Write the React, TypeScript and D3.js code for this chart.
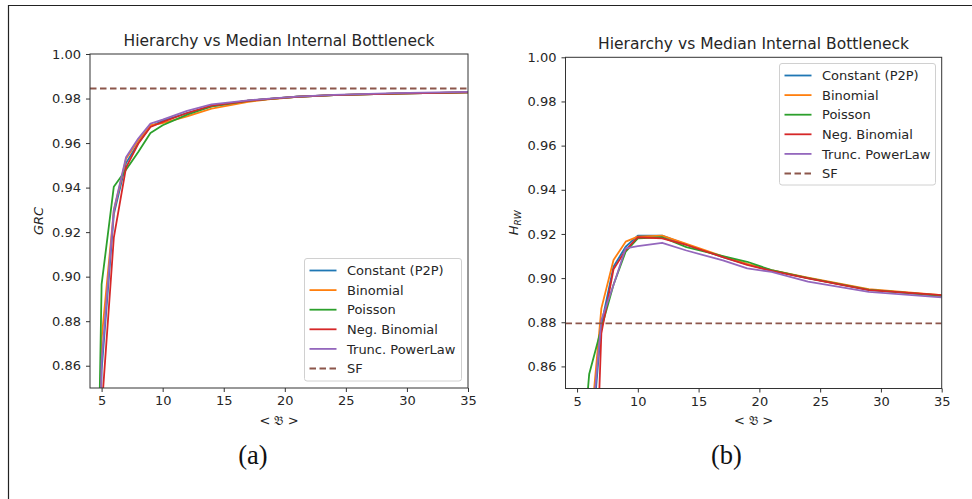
import React, { useEffect, useRef } from 'react';
import * as d3 from 'd3';

// median internal bottleneck <B> (shared x positions)
const bottleneck = [4, 5, 6, 7, 8, 9, 10, 12, 14, 17, 19, 21, 24, 29, 35];

const seriesNames = ['Constant (P2P)', 'Binomial', 'Poisson', 'Neg. Binomial', 'Trunc. PowerLaw'];
const seriesColors = ['#1f77b4', '#ff7f0e', '#2ca02c', '#d62728', '#9467bd'];
const sfColor = '#8c564b';

// (a) GRC
const grcConstant = [0.60, 0.858, 0.928, 0.951, 0.960, 0.9675, 0.970, 0.9735, 0.9765, 0.9790, 0.9800, 0.9808, 0.9815, 0.9822, 0.9828];
const grcBinomial = [0.62, 0.872, 0.9296, 0.9529, 0.9612, 0.968, 0.969, 0.972, 0.9755, 0.9785, 0.9798, 0.9807, 0.9815, 0.9822, 0.9828];
const grcPoisson = [0.58, 0.8965, 0.9404, 0.948, 0.956, 0.9645, 0.968, 0.9728, 0.9765, 0.9790, 0.9800, 0.9808, 0.9815, 0.9822, 0.9828];
const grcNegBinomial = [null, 0.84, 0.9175, 0.949, 0.9597, 0.9672, 0.9695, 0.9735, 0.9768, 0.9790, 0.9800, 0.9808, 0.9815, 0.9822, 0.9828];
const grcPowerLaw = [0.60, 0.862, 0.930, 0.9536, 0.962, 0.9687, 0.9705, 0.9745, 0.9774, 0.9792, 0.9801, 0.9809, 0.9816, 0.9824, 0.9830];
const grcSF = 0.9845;

// (b) H_RW
const hrwConstant = [null, null, 0.813, 0.879, 0.9052, 0.9142, 0.9192, 0.9192, 0.9152, 0.9095, 0.9062, 0.9035, 0.9000, 0.8948, 0.8920];
const hrwBinomial = [null, null, 0.825, 0.8863, 0.9082, 0.9165, 0.9188, 0.9192, 0.9155, 0.9098, 0.9065, 0.9036, 0.9002, 0.8950, 0.8923];
const hrwPoisson = [null, 0.79, 0.8566, 0.8773, 0.897, 0.912, 0.918, 0.9185, 0.914, 0.910, 0.9074, 0.9036, 0.9000, 0.8947, 0.8920];
const hrwNegBinomial = [null, null, 0.72, 0.875, 0.904, 0.9127, 0.9185, 0.918, 0.915, 0.9095, 0.906, 0.9033, 0.8999, 0.8946, 0.8923];
const hrwPowerLaw = [null, null, 0.82, 0.881, 0.8969, 0.9135, 0.9145, 0.916, 0.9125, 0.908, 0.9044, 0.9028, 0.8984, 0.8938, 0.8913];
const hrwSF = 0.8795;

const xTicks = [5, 10, 15, 20, 25, 30, 35];
const yTicks = [0.86, 0.88, 0.90, 0.92, 0.94, 0.96, 0.98, 1.0];

const font = 'DejaVu Sans, sans-serif';

const panels = [
  {
    id: 'a', caption: '(a)', captionX: 253,
    left: 90, right: 468, top: 54, bottom: 388,
    series: [grcConstant, grcBinomial, grcPoisson, grcNegBinomial, grcPowerLaw], sf: grcSF,
    legend: { x: 304.5, y: 258.5, w: 157, h: 122.5 },
    ylabel: 'GRC', sub: null,
  },
  {
    id: 'b', caption: '(b)', captionX: 726.5,
    left: 565.5, right: 941.7, top: 57.3, bottom: 388.5,
    series: [hrwConstant, hrwBinomial, hrwPoisson, hrwNegBinomial, hrwPowerLaw], sf: hrwSF,
    legend: { x: 779.5, y: 63.5, w: 156, h: 121.5 },
    ylabel: 'H', sub: 'RW',
  },
];

export default function App() {
  const ref = useRef<SVGSVGElement>(null);

  useEffect(() => {
    const svg = d3.select(ref.current);
    svg.selectAll('*').remove();

    // outer frame of the figure
    svg.append('path').attr('d', 'M8.5,499 V5.5 H972').attr('fill', 'none').attr('stroke', '#222').attr('stroke-width', 1.2);

    panels.forEach(p => {
      const x = d3.scaleLinear().domain([4.05, 35]).range([p.left, p.right]);
      const y = d3.scaleLinear().domain([0.85, 1.0]).range([p.bottom, p.top]);
      const g = svg.append('g');

      g.append('clipPath').attr('id', `clip-${p.id}`)
        .append('rect').attr('x', p.left).attr('y', p.top)
        .attr('width', p.right - p.left).attr('height', p.bottom - p.top);

      const plot = g.append('g').attr('clip-path', `url(#clip-${p.id})`);
      const line = d3.line<number | null>()
        .defined(d => d !== null)
        .x((d, i) => x(bottleneck[i]))
        .y(d => y(d as number));

      p.series.forEach((vals, i) => {
        plot.append('path').datum(vals).attr('d', line)
          .attr('fill', 'none').attr('stroke', seriesColors[i])
          .attr('stroke-width', 1.8).attr('stroke-linejoin', 'round');
      });
      plot.append('line')
        .attr('x1', p.left).attr('x2', p.right)
        .attr('y1', y(p.sf)).attr('y2', y(p.sf))
        .attr('stroke', sfColor).attr('stroke-width', 1.8).attr('stroke-dasharray', '6.5,3.5');

      // spines
      g.append('rect').attr('x', p.left).attr('y', p.top)
        .attr('width', p.right - p.left).attr('height', p.bottom - p.top)
        .attr('fill', 'none').attr('stroke', '#333').attr('stroke-width', 1);

      // x axis
      const xa = g.append('g').attr('transform', `translate(0,${p.bottom})`)
        .call(d3.axisBottom(x).tickValues(xTicks).tickSize(4).tickPadding(4).tickFormat(d3.format('d')));
      // y axis
      const ya = g.append('g').attr('transform', `translate(${p.left},0)`)
        .call(d3.axisLeft(y).tickValues(yTicks).tickSize(4).tickPadding(5).tickFormat(d3.format('.2f')));
      [xa, ya].forEach(a => {
        a.select('.domain').remove();
        a.selectAll('line').attr('stroke', '#333');
        a.selectAll('text').attr('fill', '#262626').style('font-family', font).style('font-size', '13px');
      });

      // title
      g.append('text').attr('x', (p.left + p.right) / 2).attr('y', p.top - 8.5)
        .attr('text-anchor', 'middle').attr('fill', '#262626')
        .style('font-family', font).style('font-size', '15.5px')
        .text('Hierarchy vs Median Internal Bottleneck');

      // x label
      g.append('text').attr('x', (p.left + p.right) / 2).attr('y', 425)
        .attr('text-anchor', 'middle').attr('fill', '#262626')
        .style('font-family', 'DejaVu Serif, DejaVu Sans, serif').style('font-size', '13px')
        .text('< 𝔅 >');

      // y label
      const cy = (p.top + p.bottom) / 2;
      const yl = g.append('text')
        .attr('transform', `translate(${p.left - 47.5},${cy}) rotate(-90)`)
        .attr('text-anchor', 'middle').attr('fill', '#262626')
        .style('font-family', font).style('font-size', '13px').style('font-style', 'italic');
      yl.append('tspan').text(p.ylabel);
      if (p.sub) {
        yl.append('tspan').attr('dy', 3).style('font-size', '9px').text(p.sub);
      }

      // legend
      const L = p.legend;
      const lg = g.append('g');
      lg.append('rect').attr('x', L.x).attr('y', L.y).attr('width', L.w).attr('height', L.h)
        .attr('rx', 2.5).attr('fill', 'white').attr('fill-opacity', 0.8)
        .attr('stroke', '#d0d0d0').attr('stroke-width', 1);
      const entries = seriesNames.map((n, i) => ({ name: n, color: seriesColors[i], dash: null as string | null }))
        .concat([{ name: 'SF', color: sfColor, dash: '6.5,3.5' }]);
      entries.forEach((e, i) => {
        const ry = L.y + 12 + i * 19.6;
        lg.append('line').attr('x1', L.x + 5).attr('x2', L.x + 32).attr('y1', ry).attr('y2', ry)
          .attr('stroke', e.color).attr('stroke-width', 1.8)
          .attr('stroke-dasharray', e.dash);
        lg.append('text').attr('x', L.x + 42.5).attr('y', ry + 4.7).attr('fill', '#262626')
          .style('font-family', font).style('font-size', '13px').text(e.name);
      });

      // caption
      g.append('text').attr('x', p.captionX).attr('y', 463.5).attr('text-anchor', 'middle')
        .attr('fill', '#111').style('font-family', 'Liberation Serif, Times New Roman, serif')
        .style('font-size', '26.5px').text(p.caption);
    });
  }, []);

  return (
    <svg ref={ref} width={972} height={499}
      style={{ position: 'absolute', left: 0, top: 0, background: 'white' }} />
  );
}
